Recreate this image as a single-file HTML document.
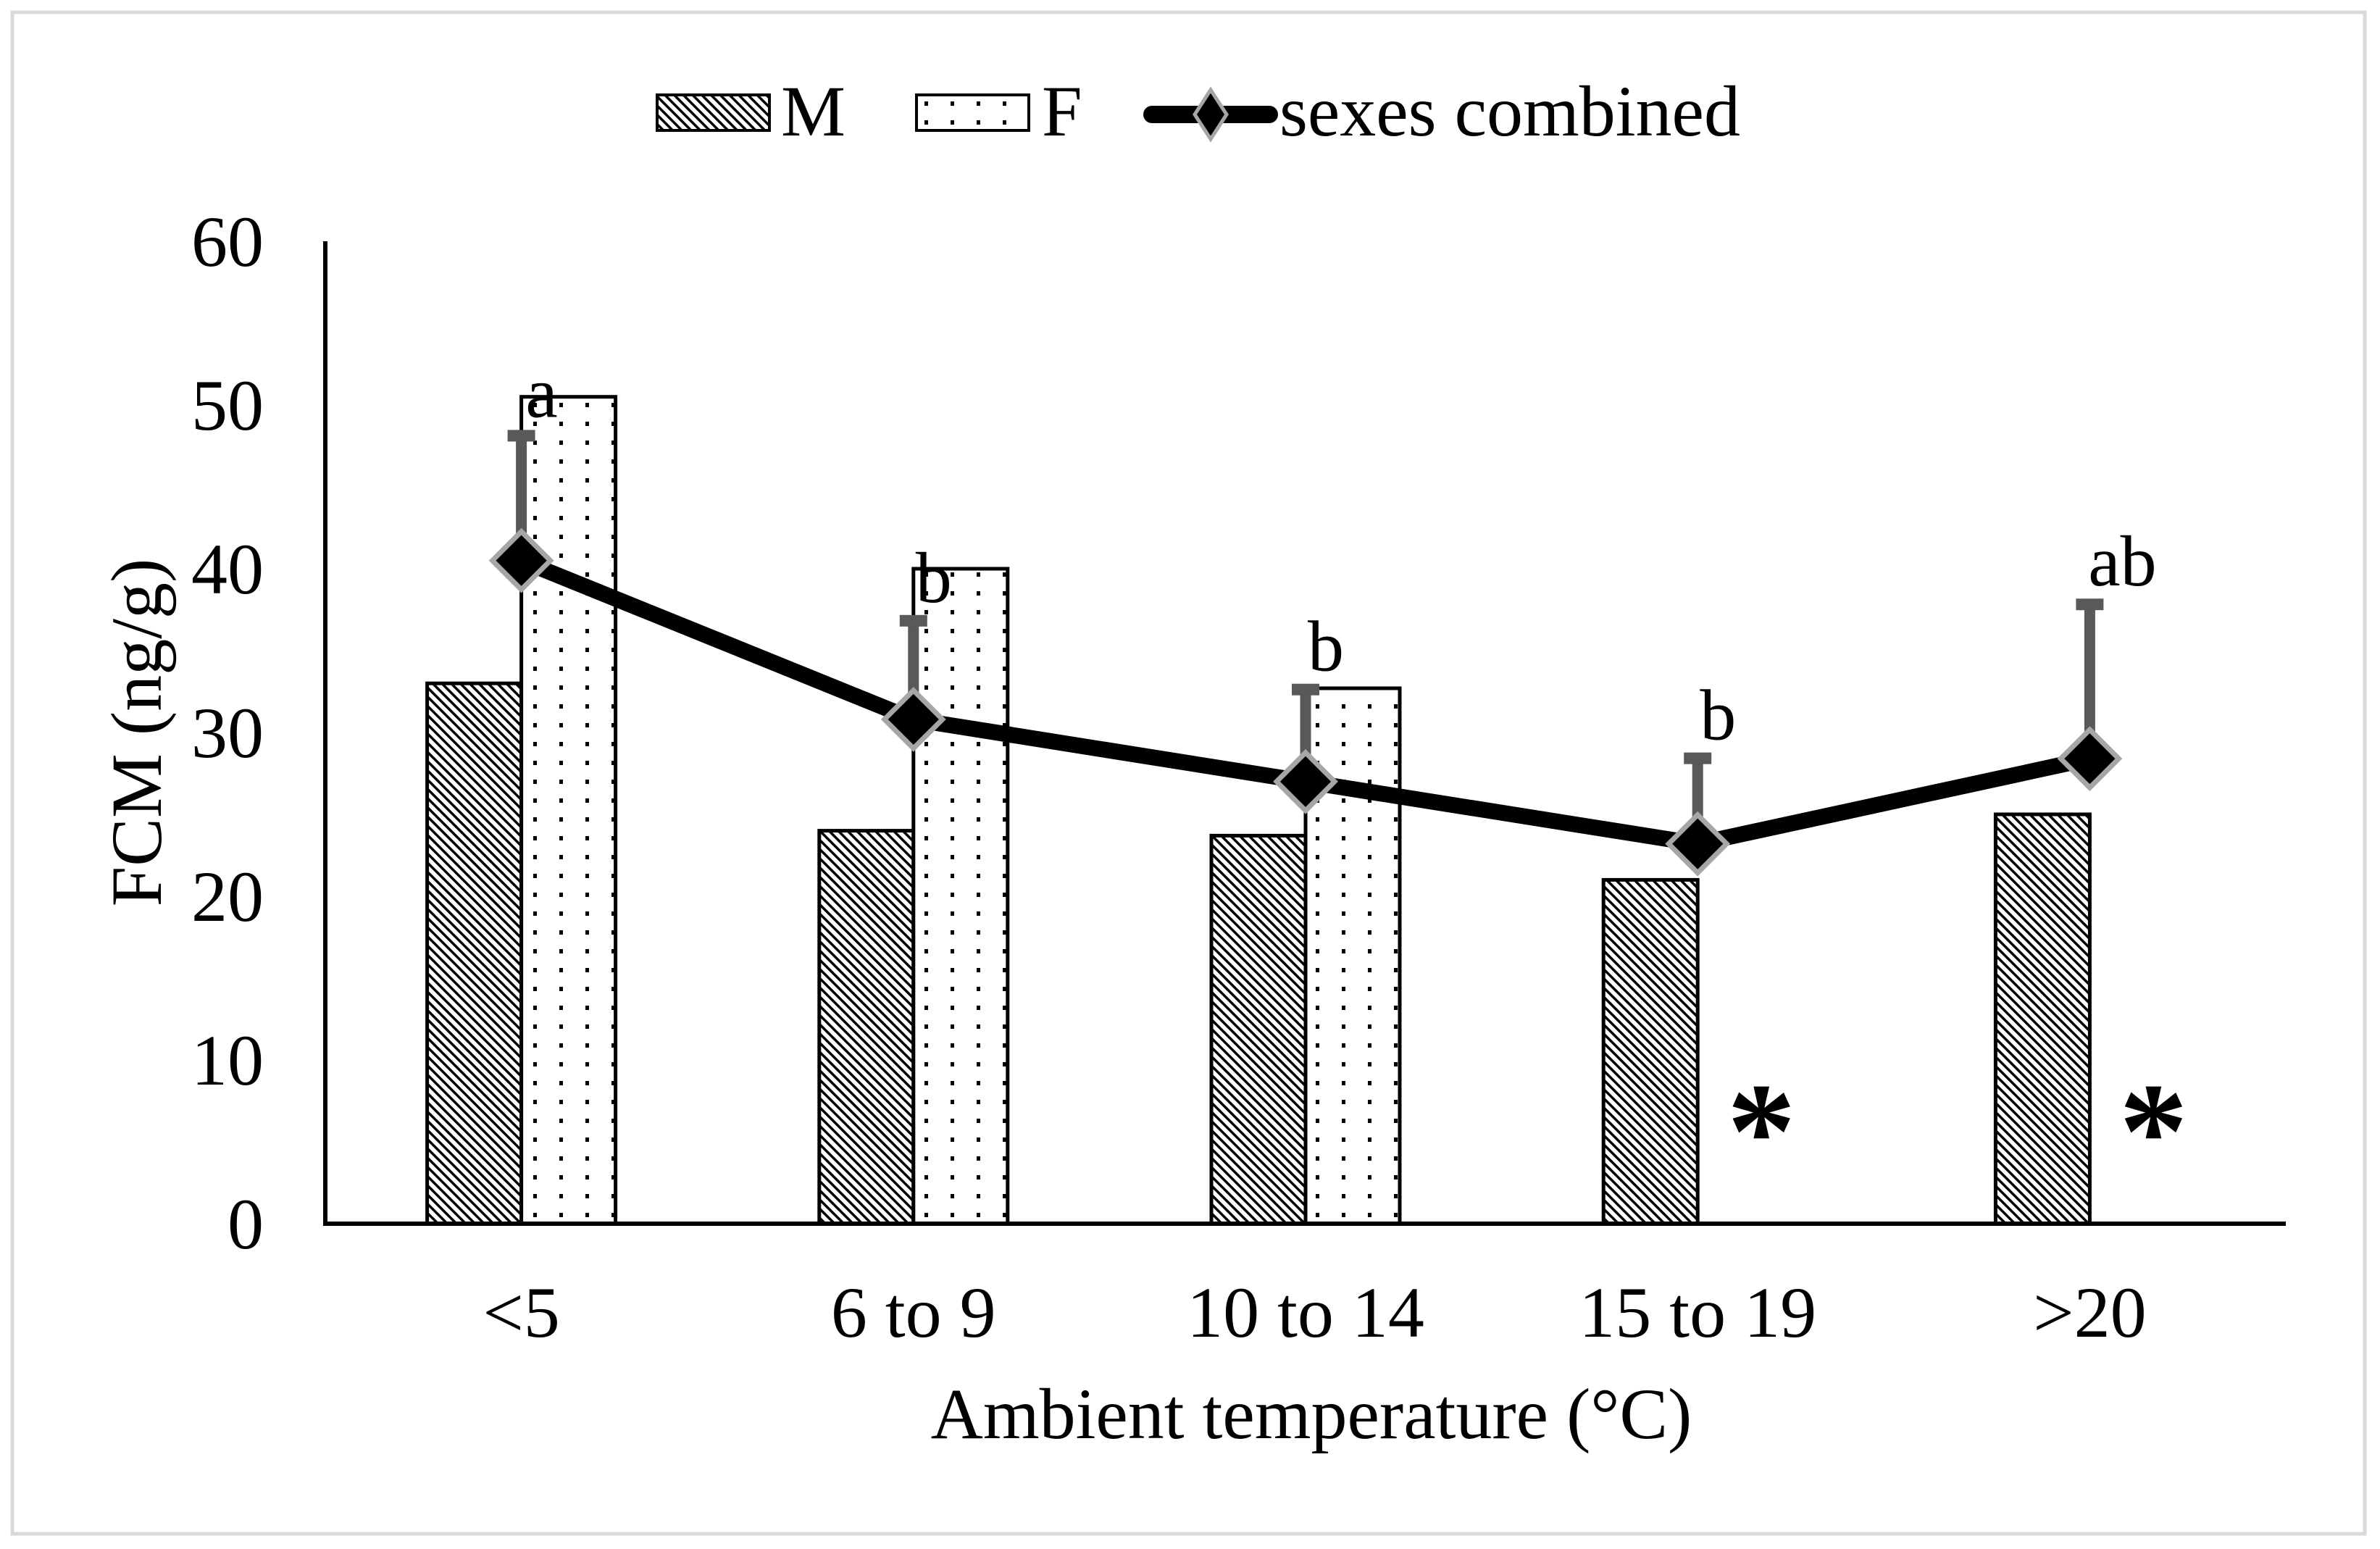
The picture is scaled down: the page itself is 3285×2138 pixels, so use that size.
<!DOCTYPE html>
<html><head><meta charset="utf-8"><style>
html,body{margin:0;padding:0;background:#fff}
svg{display:block}
text{font-family:"Liberation Serif",serif;fill:#000}
</style></head><body>
<svg id="chart" width="3285" height="2138" viewBox="0 0 3285 2138" xmlns="http://www.w3.org/2000/svg">
<defs>
<pattern id="hatch" width="9" height="9" patternUnits="userSpaceOnUse" patternTransform="rotate(45)">
<rect width="9" height="9" fill="#fff"/><rect x="0" y="0" width="9" height="3.5" fill="#000"/>
</pattern>
<pattern id="dots" width="36" height="26" patternUnits="userSpaceOnUse">
<rect width="36" height="26" fill="#fff"/><rect x="16" y="10" width="5" height="6" fill="#000"/>
</pattern>
</defs>
<rect x="17" y="17" width="3247" height="2100" fill="#fff" stroke="#d9d9d9" stroke-width="5"/>
<g id="legend">
<g>
<rect x="907" y="131" width="155" height="49" fill="url(#hatch)" stroke="#000" stroke-width="4"/>
<text x="1078" y="187" font-size="100">M</text></g>
<g>
<rect x="1265" y="131" width="155" height="49" fill="url(#dots)" stroke="#000" stroke-width="4"/>
<text x="1438" y="187" font-size="100">F</text></g>
<g>
<line x1="1590" y1="158" x2="1752" y2="158" stroke="#000" stroke-width="24" stroke-linecap="round"/>
<polygon points="1671,124 1693,158 1671,192 1649,158" fill="#000" stroke="#a6a6a6" stroke-width="5"/>
<text x="1766" y="187" font-size="100">sexes combined</text></g>
</g>
<g id="plot"></g>
</svg>
<script>
const categories = ["<5","6 to 9","10 to 14","15 to 19",">20"];
const maleValues = [33, 24, 23.7, 21, 25];
const femaleValues = [50.5, 40, 32.7, null, null];
const combinedValues = [40.5, 30.8, 27, 23.2, 28.4];
const errorTops = [48.3, 37, 32.8, 28.6, 38];
const sigLetters = ["a","b","b","b","ab"];
const missingMarks = [false, false, false, true, true];
const yTicks = [0,10,20,30,40,50,60];

const X0 = 449, X1 = 3155, Y0 = 1689, Y60 = 333;
const band = (X1 - X0) / categories.length;
const barW = 130;
function y(v){ return Y0 - (v/60)*(Y0 - Y60); }
function cx(i){ return X0 + band*(i+0.5); }
const NS = "http://www.w3.org/2000/svg";
const g = document.getElementById('plot');
function mk(tag, attrs, parent){ const e=document.createElementNS(NS,tag); for(const k in attrs) e.setAttribute(k,attrs[k]); (parent||g).appendChild(e); return e; }

yTicks.forEach(t=>{
  const e = mk('text',{x:364,y:y(t)+34,'font-size':100,'text-anchor':'end'});
  e.textContent = t;
  
  
});
categories.forEach((c,i)=>{
  const e = mk('text',{x:cx(i),y:1845,'font-size':100,'text-anchor':'middle'});
  e.textContent = c;
  
  
});
maleValues.forEach((v,i)=>{
  const r = mk('rect',{x:cx(i)-barW,y:y(v),width:barW,height:Y0-y(v),fill:'url(#hatch)',stroke:'#000','stroke-width':5});
  
  
});
femaleValues.forEach((v,i)=>{
  if(v===null) return;
  const r = mk('rect',{x:cx(i),y:y(v),width:barW,height:Y0-y(v),fill:'url(#dots)',stroke:'#000','stroke-width':5});
  
  
});
const ya = mk('line',{x1:X0,y1:Y60,x2:X0,y2:Y0+3,stroke:'#000','stroke-width':6});


const xa = mk('line',{x1:X0-3,y1:Y0,x2:X1,y2:Y0,stroke:'#000','stroke-width':6});


errorTops.forEach((t,i)=>{
  const e = mk('line',{x1:cx(i),y1:y(combinedValues[i]),x2:cx(i),y2:y(t),stroke:'#595959','stroke-width':15});
  
  
  const c = mk('rect',{x:cx(i)-19,y:y(t)-4,width:38,height:16,fill:'#595959'});
  
  
});
const pts = combinedValues.map((v,i)=>cx(i)+','+y(v)).join(' ');
const pl = mk('polyline',{points:pts,fill:'none',stroke:'#000','stroke-width':22,'stroke-linejoin':'round'});


combinedValues.forEach((v,i)=>{
  const X=cx(i), Y=y(v);
  const d = mk('polygon',{points:`${X},${Y-40} ${X+40},${Y} ${X},${Y+40} ${X-40},${Y}`,fill:'#000',stroke:'#a6a6a6','stroke-width':7});
  
  
});
sigLetters.forEach((s,i)=>{
  const e = mk('text',{x:cx(i)+(s.length>1?45:28),y:y(errorTops[i])-22,'font-size':100,'text-anchor':'middle'});
  e.textContent = s;
  
  
});
missingMarks.forEach((m,i)=>{
  if(!m) return;
  const e = mk('text',{x:cx(i)+88,y:1625,'font-size':190,'font-weight':'bold','text-anchor':'middle'});
  e.textContent = '*';
  
  
});
const yt = mk('text',{x:0,y:0,'font-size':100,'text-anchor':'middle',transform:'translate(222,1011) rotate(-90)'});
yt.textContent = 'FCM (ng/g)';


const xt = mk('text',{x:1810,y:1985,'font-size':100,'text-anchor':'middle'});
xt.textContent = 'Ambient temperature (°C)';


</script>
</body></html>
